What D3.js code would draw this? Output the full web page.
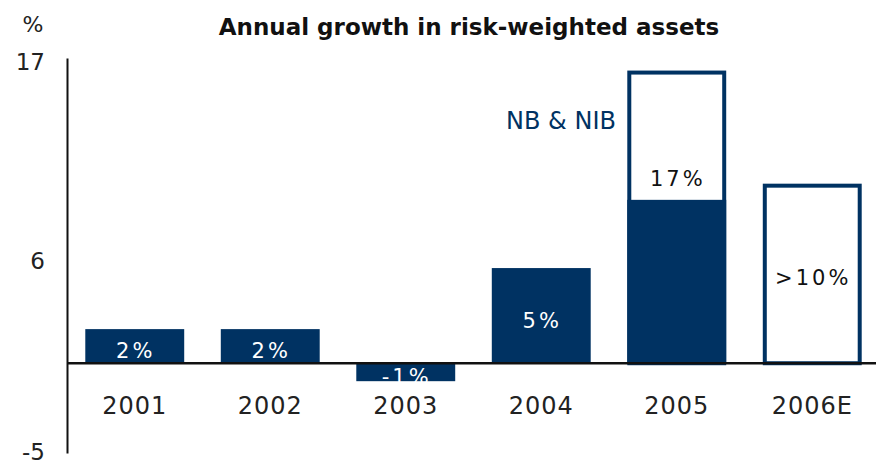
<!DOCTYPE html>
<html><head><meta charset="utf-8">
<script src="https://cdn.jsdelivr.net/npm/d3@7"></script>
<style>body{margin:0;background:#fff}svg{display:block}text{font-family:"DejaVu Sans",sans-serif}</style>
</head><body>
<script>
const categories = ["2001","2002","2003","2004","2005","2006E"];
const nbValues = [1.9, 1.9, -1.0, 5.3, 9.1, 0];
const totalValues = [null, null, null, null, 16.3, 10];
const barLabels = ["2%","2%","-1%","5%","17%",">10%"];
const yTicks = [-5, 6, 17];
const title = "Annual growth in risk-weighted assets";
const unit = "%";
const seriesNote = "NB & NIB";

const W = 876, H = 465, navy = "#003262";
const svg = d3.select("body").append("svg").attr("width", W).attr("height", H);
const y = d3.scaleLinear().domain([-5, 17]).range([453, 58]);
const x = d3.scaleBand().domain(categories).range([67, 880]).paddingInner(0.27).paddingOuter(0.135);

svg.append("text").attr("x", 469).attr("y", 35).attr("text-anchor", "middle")
  .attr("font-size", 23).attr("font-weight", "bold").attr("fill", "#111").text(title);
svg.append("text").attr("x", 33).attr("y", 32).attr("text-anchor", "middle")
  .attr("font-size", 22).attr("fill", "#222").text(unit);

// y axis
const yAxis = d3.axisLeft(y).tickValues(yTicks).tickFormat(d => String(d)).tickSize(0).tickPadding(22);
const ga = svg.append("g").attr("transform", "translate(67,0)").call(yAxis);
ga.select(".domain").attr("stroke", "#111").attr("stroke-width", 2);
ga.selectAll("text").attr("font-size", 23).attr("fill", "#222").attr("font-family", "DejaVu Sans, sans-serif")
  .attr("dy", (d) => d === 17 ? "0.5em" : d === 6 ? "0.55em" : "0.3em");

// outlined totals
const data = categories.map((c, i) => ({c, nb: nbValues[i], tot: totalValues[i], lab: barLabels[i]}));
svg.selectAll("rect.tot").data(data.filter(d => d.tot != null)).join("rect").attr("class", "tot")
  .attr("x", d => x(d.c) + 2).attr("width", x.bandwidth() - 4)
  .attr("y", d => y(d.tot) + 2).attr("height", d => y(0) - y(d.tot) - 2)
  .attr("fill", "#fff").attr("stroke", navy).attr("stroke-width", 4);

// filled NB bars
svg.selectAll("rect.nb").data(data.filter(d => d.nb !== 0)).join("rect").attr("class", "nb")
  .attr("x", d => x(d.c)).attr("width", x.bandwidth())
  .attr("y", d => y(Math.max(0, d.nb))).attr("height", d => Math.abs(y(d.nb) - y(0)))
  .attr("fill", navy);

// zero line
svg.append("line").attr("x1", 67).attr("x2", W).attr("y1", y(0)).attr("y2", y(0))
  .attr("stroke", "#111").attr("stroke-width", 2.5);

// category labels
svg.selectAll("text.cat").data(categories).join("text").attr("class", "cat")
  .attr("x", d => x(d) + x.bandwidth() / 2).attr("y", 414).attr("text-anchor", "middle")
  .attr("font-size", 24).attr("letter-spacing", 1).attr("fill", "#222").text(d => d);

// bar labels
svg.selectAll("text.val").data(data).join("text").attr("class", "val")
  .attr("x", d => x(d.c) + x.bandwidth() / 2 + 1)
  .attr("y", (d, i) => {
    if (i === 4) return y(d.tot) + 115;
    if (i === 5) return (y(d.tot) + y(0)) / 2 + 12;
    return (y(d.nb) + y(0)) / 2 + 12;
  })
  .attr("text-anchor", "middle").attr("font-size", 21).attr("letter-spacing", 3)
  .attr("fill", (d, i) => i >= 4 ? "#111" : "#fff").text(d => d.lab);

svg.append("text").attr("x", 561).attr("y", 129).attr("text-anchor", "middle")
  .attr("font-size", 24).attr("fill", navy).text(seriesNote);
</script>
</body></html>
